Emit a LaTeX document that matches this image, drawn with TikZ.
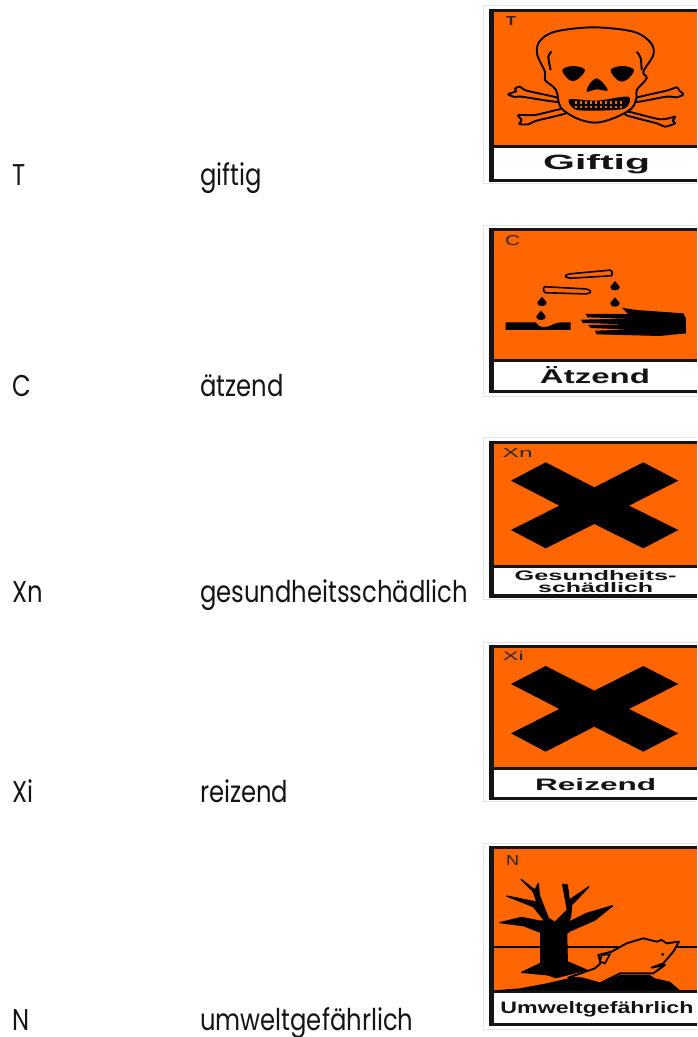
\documentclass[tikz,border=0pt]{standalone}
\usepackage{graphicx}
\usepackage{fontspec}
\setmainfont{Poppins}
\newfontfamily\signfont[Ligatures=TeX]{Liberation Sans}
\definecolor{hazard}{HTML}{FF6600}
\definecolor{signedge}{HTML}{E4E4E4}
\tikzset{
  lab/.style={anchor=base west,inner sep=0pt,xscale=.81,text=black!92,font=\fontsize{30}{36}\selectfont},
  title/.style={anchor=base,inner sep=0pt,text=black!92,font=\signfont\bfseries},
  code/.style={inner sep=0pt,text=black!85,font=\signfont},
  lineart/.style={draw=black,line width=1.9pt,line join=round},
}
% sign frame: #1 top outer, #2 frame top, #3 orange end, #4 white top, #5 white bottom, #6 frame bottom, #7 outer bottom
\newcommand{\signframe}[7]{%
  \fill[signedge] (483,#1) rectangle (697,#7);
  \fill[white] (484,#1+1) rectangle (697,#7-1);
  \fill[black!92] (489,#2) rectangle (697,#6);
  \fill[hazard] (494,#2+3) rectangle (697,#3);
  \fill[white] (494,#4) rectangle (697,#5);
}
\begin{document}
\begin{tikzpicture}[x=1pt,y=-1pt]
\useasboundingbox (0,0) rectangle (697,1037);
\fill[white] (0,0) rectangle (697,1037);
% left labels
\node[lab] (t1) at (12,185) {T};
\node[lab] (t2) at (200,185) {giftig};
\node[lab] (c1) at (12,396) {C};
\node[lab] (c2) at (200,396) {ätzend};
\node[lab] (xn1) at (12,602) {Xn};
\node[lab] (xn2) at (200,602) {gesundheitsschädlich};
\node[lab] (xi1) at (12,802) {Xi};
\node[lab] (xi2) at (200,802) {reizend};
\node[lab] (n1) at (12,1030) {N};
\node[lab] (n2) at (200,1030) {umweltgefährlich};

% ---- T
\signframe{5}{9}{145}{148}{179}{182}{184}
\begin{scope}[shift={(480,0)},x=0.3333pt,y=-0.3333pt]
\path (93,62) node[code,font=\signfont\bfseries] (ta) {\resizebox{10pt}{9pt}{T}};
\path (350,510) node[title] (tb) {\resizebox{107pt}{15pt}{Giftig}};
\foreach \b in {
 {(232,293) (140,272) (120,260) (105,266) (108,274) (85,283) (105,291) (125,290) (232,306)},
 {(250,326) (165,345) (115,345) (125,360) (118,372) (145,373) (170,362) (258,340)},
 {(470,293) (560,272) (590,262) (598,272) (610,283) (590,292) (560,290) (470,306)},
 {(445,335) (540,358) (585,350) (578,362) (585,370) (555,380) (530,370) (440,346)}}
 {\draw[lineart,fill=hazard] plot[smooth cycle,tension=.45] coordinates \b;}
\draw[lineart,fill=hazard] plot[smooth cycle,tension=.55] coordinates {(195,215) (172,165) (178,125) (225,95) (340,82) (460,95) (512,128) (520,165) (490,215) (500,235) (470,270) (470,290) (455,325) (400,355) (345,368) (290,355) (242,322) (228,270) (195,240)};
\draw[black,line width=2pt] plot[smooth,tension=.6] coordinates {(215,155) (205,170) (212,210)};
\draw[black,line width=2pt] plot[smooth,tension=.6] coordinates {(470,155) (482,175) (485,210)};
\fill[black] plot[smooth cycle,tension=.6] coordinates {(247,210) (280,198) (315,210) (290,240) (268,240)};
\fill[black] plot[smooth cycle,tension=.6] coordinates {(462,210) (428,198) (392,210) (415,242) (440,240)};
\fill[black] plot[smooth cycle,tension=.5] coordinates {(350,235) (370,250) (383,272) (350,268) (320,275) (330,250)};
\fill[black] plot[smooth cycle,tension=.5] coordinates {(268,298) (350,302) (445,290) (435,325) (350,332) (285,328)};
\foreach \x in {285,300,...,430} {\fill[hazard] (\x,304) rectangle ++(6,8); \fill[hazard] (\x,317) rectangle ++(6,7);}
\end{scope}

% ---- C
\signframe{225}{228}{359}{362}{390}{393}{397}
\begin{scope}[shift={(480,215)},x=0.3333pt,y=-0.3333pt]
\path (98,76) node[code] (ca) {\resizebox{15pt}{10pt}{C}};
\path (345,505) node[title] (cb) {\resizebox{110pt}{17pt}{Ätzend}};
\draw[black,line width=1.6pt,fill=hazard,line join=round,rounded corners=1.5pt] (395,165) -- (398,182) -- (268,190) -- (253,184) -- (265,177) -- cycle;
\draw[black,line width=1.6pt,fill=hazard,line join=round,rounded corners=1.5pt] (190,215) -- (322,222) -- (335,230) -- (322,237) -- (192,233) -- cycle;
\foreach \p in {(405,213),(405,262),(186,260),(183,302)}
 \fill[black,shift={\p}] (0,-15) .. controls (3,-7) and (14,-3) .. (14,4) .. controls (14,16) and (-14,16) .. (-14,4) .. controls (-14,-3) and (-3,-7) .. (0,-15) -- cycle;
\fill[black] (77,322) -- (167,322) .. controls (175,338) and (195,338) .. (205,334) .. controls (220,330) and (225,322) .. (245,322) -- (272,322) -- (272,345) -- (77,345) -- cycle;
\fill[black,line join=round] (425,278) -- (470,285) -- (610,295) -- (618,310) -- (618,355) -- (540,363) -- (350,358) -- (345,347) -- (445,344) -- (332,339) -- (325,330) -- (445,328) -- (308,324) -- (303,314) -- (445,311) -- (322,307) -- (318,297) -- (445,297) -- cycle;
\end{scope}

% ---- Xn
\signframe{437}{441}{565}{568}{594}{598}{600}
\begin{scope}[shift={(480,430)},x=0.3333pt,y=-0.3333pt]
\path (113,68) node[code] (xa) {\resizebox{30pt}{9pt}{Xn}};
\path (347,452) node[title] (xb) {\resizebox{162pt}{10pt}{Gesundheits-}};
\path (347,488) node[title] (xc) {\resizebox{115pt}{10pt}{schädlich}};
\fill[black] (197,97) -- (343,172) -- (490,97) -- (595,152) -- (447,227) -- (595,300) -- (490,355) -- (343,282) -- (197,355) -- (93,300) -- (238,227) -- (93,152) -- cycle;
\end{scope}

% ---- Xi
\signframe{642}{645}{767}{770}{797}{800}{802}
\begin{scope}[shift={(480,635)},x=0.3333pt,y=-0.3333pt]
\path (100,63) node[code] (ya) {\resizebox{21pt}{9pt}{Xi}};
\path (347,466) node[title] (yb) {\resizebox{121pt}{12pt}{Reizend}};
\fill[black] (197,93) -- (343,167) -- (490,93) -- (595,147) -- (447,222) -- (595,295) -- (490,350) -- (343,275) -- (197,350) -- (93,295) -- (238,222) -- (93,147) -- cycle;
\end{scope}

% ---- N
\signframe{843}{846}{990}{993}{1023}{1026}{1030}
\begin{scope}[shift={(480,835)},x=0.3333pt,y=-0.3333pt]
\path (98,75) node[code] (za) {\resizebox{13pt}{10pt}{N}};
\path (351,537) node[title] (zb) {\resizebox{193pt}{12pt}{Umweltgefährlich}};
\draw[black,line width=1.9pt] (42,335) -- (651,335);
\filldraw[black,line width=1.2pt,line join=round] (125,412) -- (182,385) -- (182,292) -- (130,272) -- (60,263) -- (125,247) -- (178,258) -- (195,258) -- (160,215) -- (80,183) -- (165,200) -- (172,205) -- (160,170) -- (123,133) -- (165,165) -- (175,145) -- (178,180) -- (205,250) -- (225,262) -- (262,225) -- (248,148) -- (262,150) -- (268,195) -- (327,155) -- (275,210) -- (272,245) -- (265,262) -- (320,235) -- (398,212) -- (345,255) -- (270,288) -- (260,295) -- (262,380) -- (320,405) -- (228,428) -- (205,420) -- cycle;
\fill[black] (43,466) -- (120,460) -- (200,445) -- (265,430) -- (305,425) -- (360,445) -- (420,420) -- (510,420) -- (525,430) -- (570,440) -- (600,466) -- cycle;
\draw[lineart,fill=hazard] (265,428) -- (345,400) -- (362,385) -- (355,360) -- (395,350) -- (440,325) -- (490,310) -- (530,320) -- (545,315) -- (560,325) -- (597,320) -- (580,350) -- (550,385) -- (515,398) -- (555,390) -- (520,415) -- (420,415) -- (360,445) -- (305,430) -- cycle;
\draw[black,line width=1.6pt] (365,360) -- (390,358) -- (375,385) -- (360,380) -- cycle;
\fill[black] (548,358) circle[radius=5];
\end{scope}
\end{tikzpicture}
\end{document}
